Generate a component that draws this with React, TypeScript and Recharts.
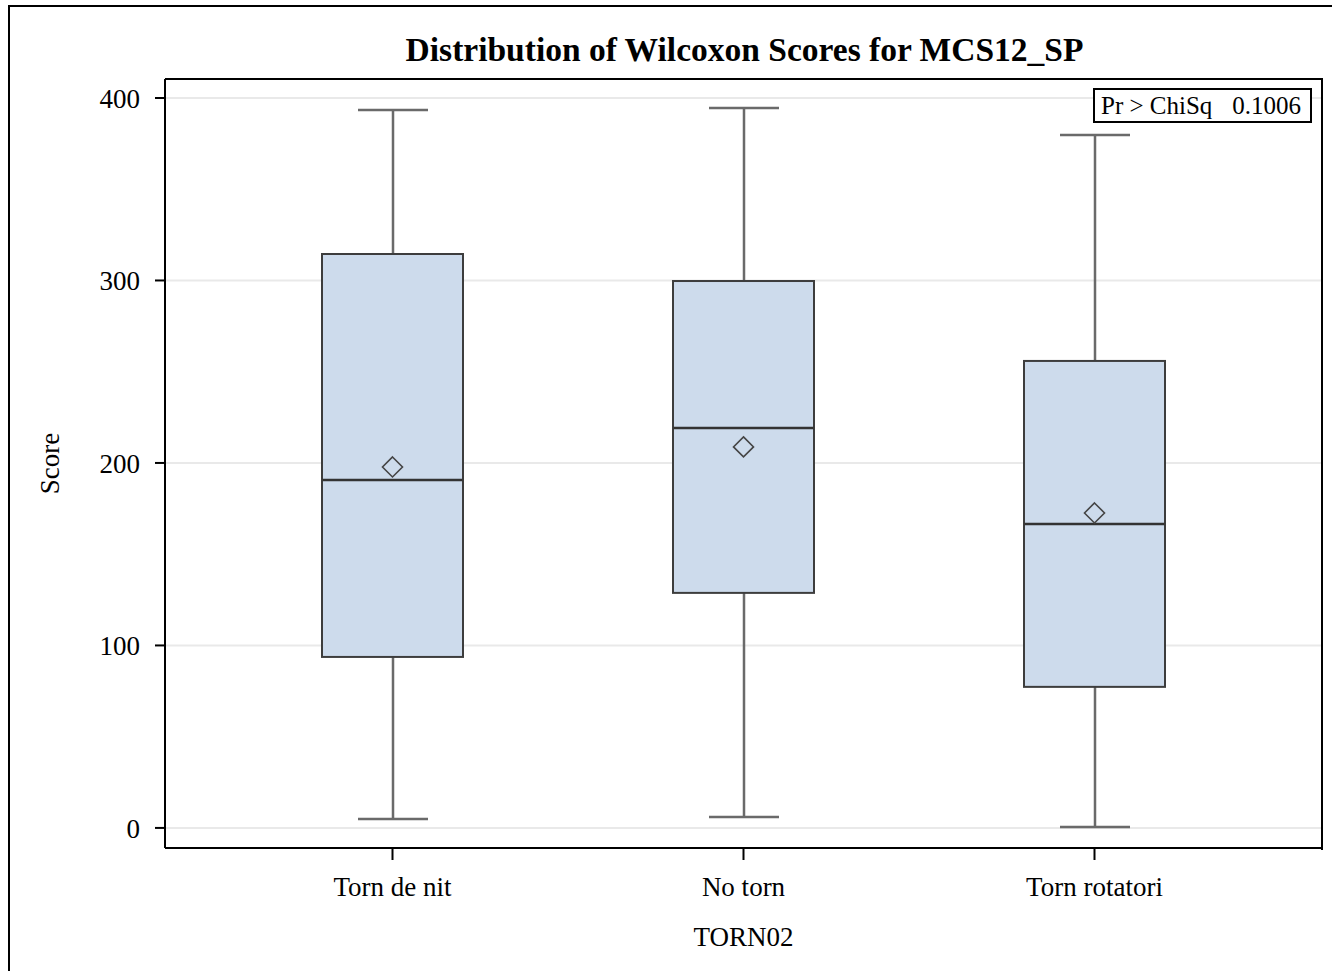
import React from 'react';
import { ComposedChart, Bar, Scatter, XAxis, YAxis, CartesianGrid } from 'recharts';

const categories = ['Torn de nit', 'No torn', 'Torn rotatori'];
const whiskerLow = [4.9, 6.0, 0.5];
const q1 = [93.7, 128.8, 77.3];
const median = [190.7, 219.2, 166.6];
const q3 = [314.5, 299.7, 255.9];
const whiskerHigh = [393.4, 394.5, 379.7];
const means = [197.8, 208.8, 172.6];
const yTicks = [0, 100, 200, 300, 400];
const chiLabel = 'Pr > ChiSq';
const chiValue = '0.1006';

const data = categories.map((name, i) => ({
  name,
  whisker: [whiskerLow[i], whiskerHigh[i]],
  box: [q1[i], q3[i]],
  median: median[i],
  mean: means[i],
}));

const FONT = '"Liberation Serif", "Times New Roman", serif';

const WhiskerShape = (p: any) => {
  const { x, y, width, height } = p;
  const cx = x + width / 2;
  const top = Math.min(y, y + height);
  const bot = Math.max(y, y + height);
  return (
    <g stroke="#6a6a6a" strokeWidth={2.5}>
      <line x1={cx} x2={cx} y1={top} y2={bot} />
      <line x1={x} x2={x + width} y1={top} y2={top} />
      <line x1={x} x2={x + width} y1={bot} y2={bot} />
    </g>
  );
};

const BoxShape = (p: any) => {
  const { x, y, width, height } = p;
  const top = Math.min(y, y + height);
  const h = Math.abs(height);
  return <rect x={x} y={top} width={width} height={h} fill="#cddbec" stroke="#3d3d3d" strokeWidth={2} />;
};

const MedianShape = (p: any) => {
  const { cx, cy } = p;
  return <line x1={cx - 70} x2={cx + 70} y1={cy} y2={cy} stroke="#333" strokeWidth={2.5} />;
};

const MeanShape = (p: any) => {
  const { cx, cy } = p;
  const r = 10;
  return (
    <polygon
      points={`${cx},${cy - r} ${cx + r},${cy} ${cx},${cy + r} ${cx - r},${cy}`}
      fill="none"
      stroke="#454545"
      strokeWidth={1.6}
    />
  );
};

const YLabel = (props: any) => {
  const vb = props.viewBox || {};
  const cy = vb.y + vb.height / 2;
  const cx = 50;
  return (
    <text
      x={cx}
      y={cy}
      transform={`rotate(-90, ${cx}, ${cy})`}
      textAnchor="middle"
      dominantBaseline="central"
      fontFamily={FONT}
      fontSize={27}
      fill="#000"
    >
      Score
    </text>
  );
};

const XLabel = (props: any) => {
  const vb = props.viewBox || {};
  const cx = vb.x + vb.width / 2;
  return (
    <text x={cx} y={946} textAnchor="middle" fontFamily={FONT} fontSize={27} fill="#000">
      TORN02
    </text>
  );
};

const pad = { left: 52, right: 52 };

export default function App() {
  return (
    <div style={{ position: 'absolute', left: 0, top: 0, width: 1332, height: 971, overflow: 'hidden', background: '#fff' }}>
      <div
        style={{
          position: 'absolute',
          left: 8,
          top: 5,
          width: 1400,
          height: 1000,
          border: '2px solid #000',
        }}
      />
      <ComposedChart
        width={1332}
        height={971}
        data={data}
        margin={{ top: 79, right: 10, bottom: 10, left: 85 }}
      >
        <CartesianGrid vertical={false} stroke="#e9e9e9" strokeWidth={2} yAxisId={0} xAxisId="a" />
        <XAxis
          xAxisId="a"
          dataKey="name"
          type="category"
          padding={pad}
          height={113}
          tickSize={12}
          tickMargin={17}
          axisLine={{ stroke: '#000', strokeWidth: 2 }}
          tickLine={{ stroke: '#000', strokeWidth: 2 }}
          tick={{ fill: '#000', fontSize: 27, fontFamily: FONT }}
          label={<XLabel />}
        />
        <XAxis xAxisId="b" dataKey="name" type="category" padding={pad} hide />
        <YAxis
          yAxisId={0}
          type="number"
          domain={[-11, 410.4]}
          ticks={yTicks}
          width={80}
          tickSize={10}
          tickMargin={15}
          axisLine={{ stroke: '#000', strokeWidth: 2 }}
          tickLine={{ stroke: '#000', strokeWidth: 2 }}
          tick={{ fill: '#000', fontSize: 27, fontFamily: FONT }}
          label={<YLabel />}
        />
        <Bar
          xAxisId="b"
          dataKey="whisker"
          barSize={70}
          shape={<WhiskerShape />}
          isAnimationActive={false}
        />
        <Bar
          xAxisId="a"
          dataKey="box"
          barSize={141}
          shape={<BoxShape />}
          isAnimationActive={false}
        />
        <Scatter xAxisId="a" dataKey="median" shape={<MedianShape />} isAnimationActive={false} />
        <Scatter xAxisId="a" dataKey="mean" shape={<MeanShape />} isAnimationActive={false} />
      </ComposedChart>
      <div
        style={{
          position: 'absolute',
          left: 165,
          top: 78,
          width: 1156,
          height: 770,
          borderTop: '2px solid #000',
          borderRight: '2px solid #000',
          pointerEvents: 'none',
        }}
      />
      <div
        style={{
          position: 'absolute',
          left: 0,
          width: 1489,
          top: 31,
          textAlign: 'center',
          fontFamily: FONT,
          fontWeight: 'bold',
          fontSize: 33.5,
          lineHeight: '38px',
          color: '#000',
        }}
      >
        Distribution of Wilcoxon Scores for MCS12_SP
      </div>
      <div
        style={{
          position: 'absolute',
          left: 1093,
          top: 88,
          width: 215,
          height: 31,
          border: '2px solid #000',
          background: '#fff',
          fontFamily: FONT,
          fontSize: 25,
          lineHeight: '31px',
          color: '#000',
          whiteSpace: 'pre',
          boxSizing: 'content-box',
        }}
      >
        <span style={{ marginLeft: 6 }}>{chiLabel}</span>
        <span style={{ marginLeft: 20 }}>{chiValue}</span>
      </div>
    </div>
  );
}
